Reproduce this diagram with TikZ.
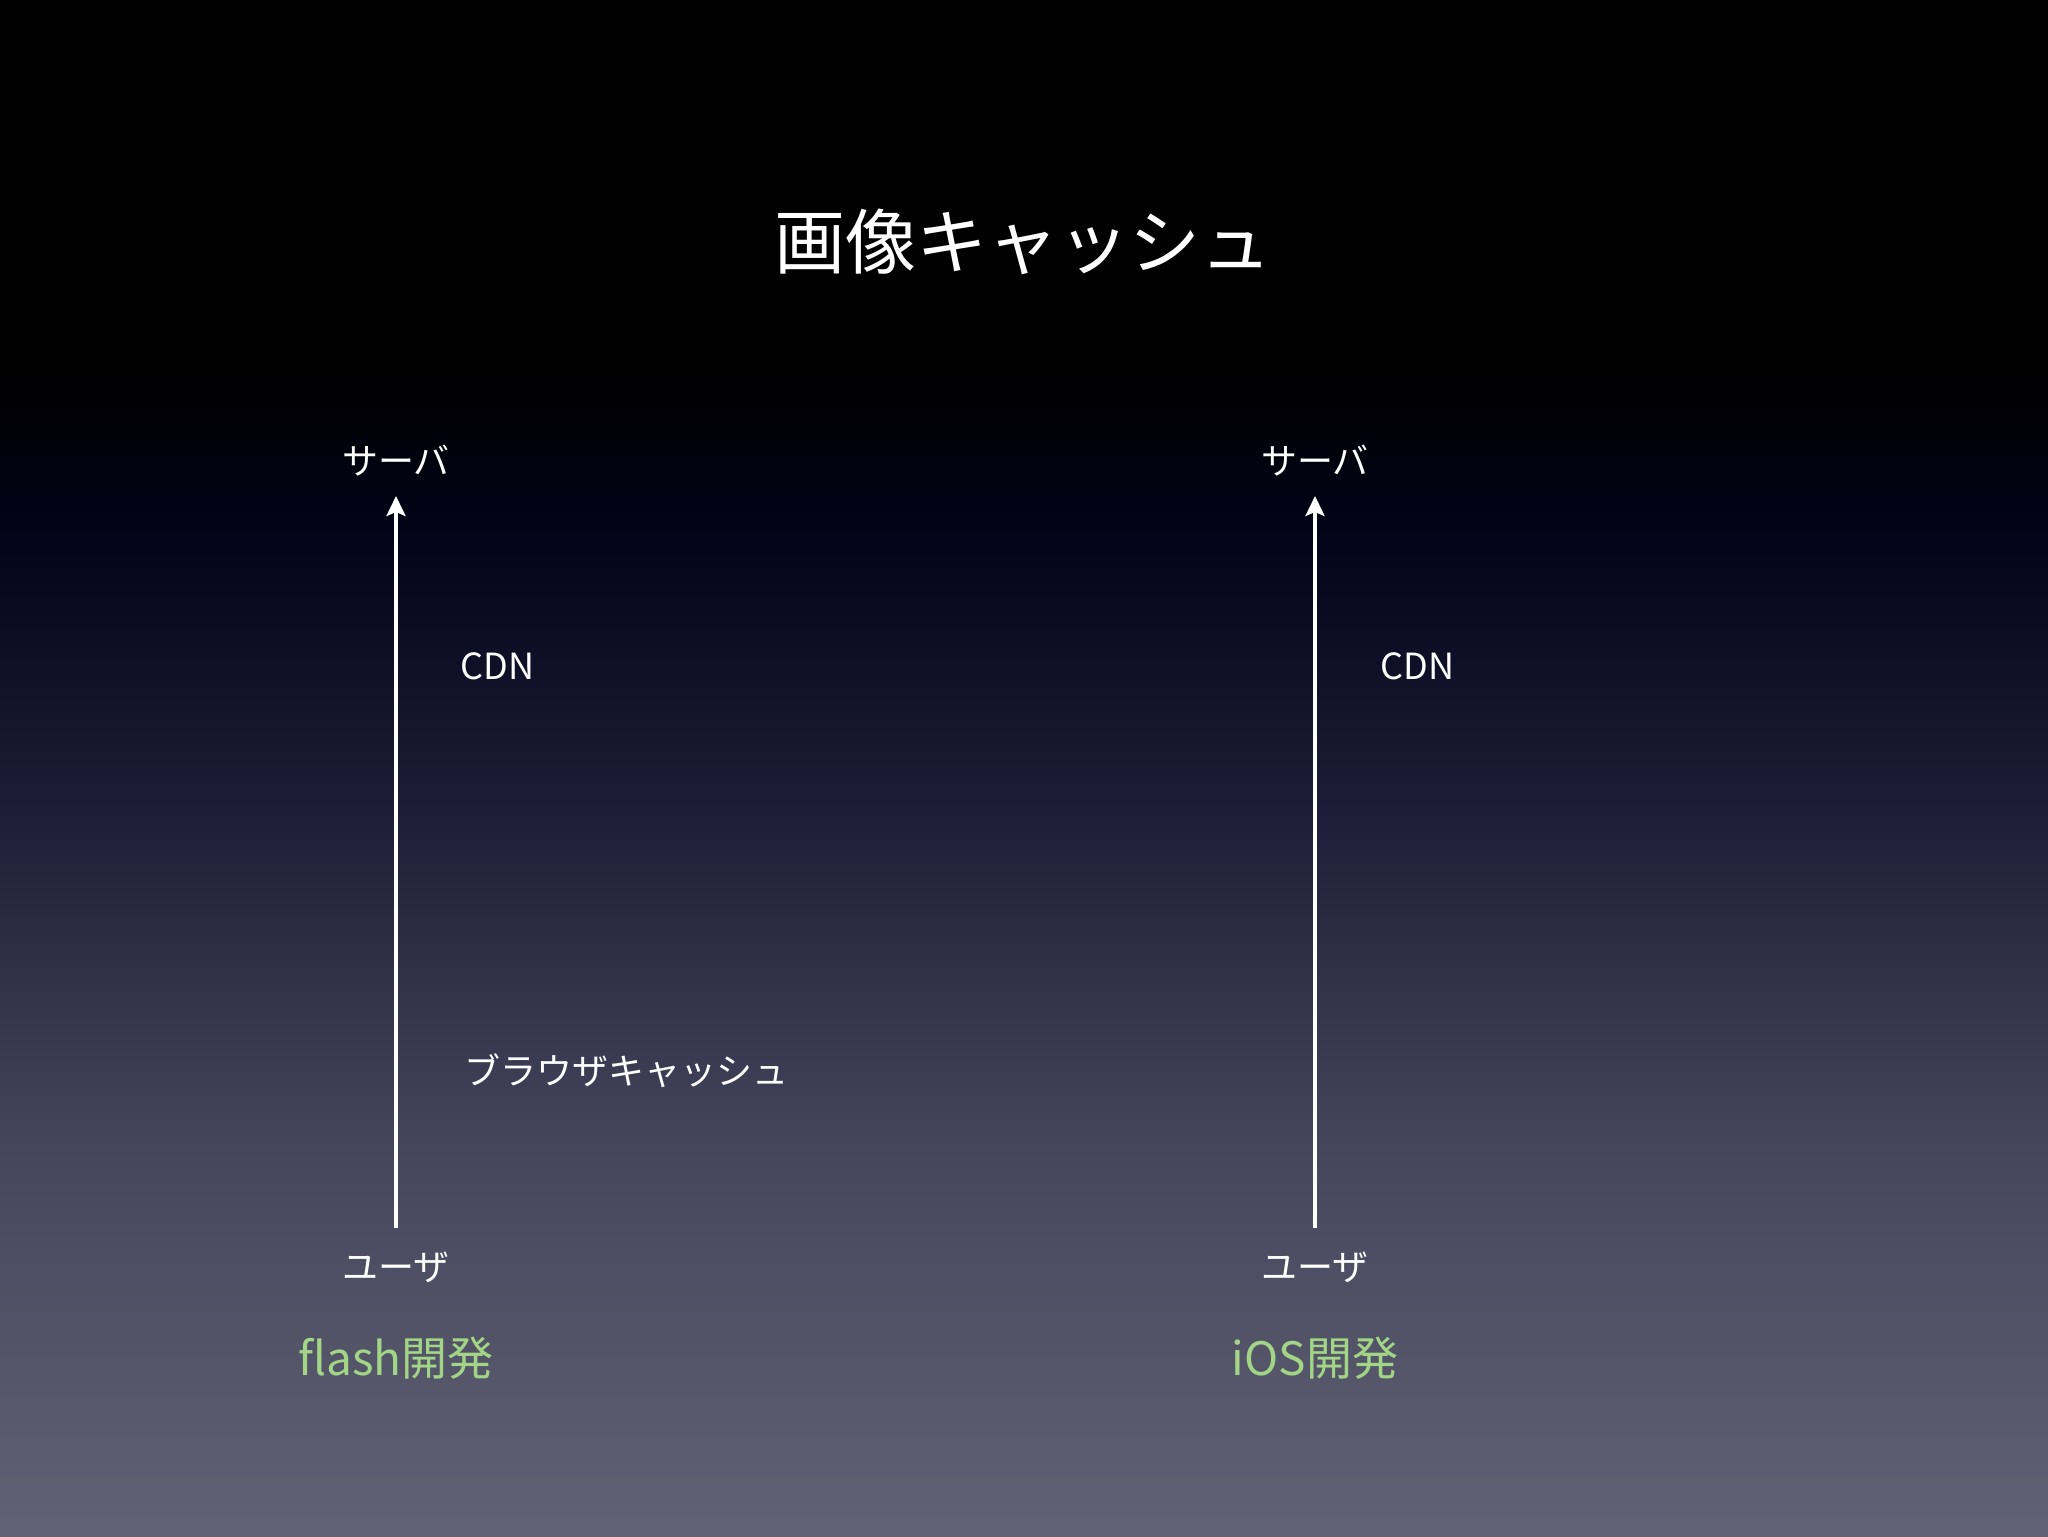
\documentclass[tikz,border=0pt]{standalone}
\usepackage{fontspec}
\setmainfont{Noto Sans CJK JP}
\usetikzlibrary{arrows.meta}
\definecolor{bgA}{HTML}{000000}
\definecolor{bgB}{HTML}{03031A}
\definecolor{bgC}{HTML}{1E1E38}
\definecolor{bgD}{HTML}{45455C}
\definecolor{bgE}{HTML}{626275}
\definecolor{greentxt}{HTML}{A2D585}
\tikzset{
  lbl/.style={text=white, font=\fontsize{18}{20}\selectfont, inner sep=0pt},
  sub/.style={text=greentxt, font=\fontsize{23}{26}\selectfont, inner sep=0pt},
  flow/.style={draw=white, line width=2pt, -{Stealth[length=10pt,width=9.5pt,inset=2pt]}}
}
\begin{document}
\begin{tikzpicture}[x=0.5pt,y=-0.5pt]
\useasboundingbox (0,0) rectangle (2048,1536);
\fill[bgA] (0,0) rectangle (2048,370);
\shade[top color=bgA, bottom color=bgB] (0,369) rectangle (2048,540);
\shade[top color=bgB, bottom color=bgC] (0,539) rectangle (2048,820);
\shade[top color=bgC, bottom color=bgD] (0,819) rectangle (2048,1150);
\shade[top color=bgD, bottom color=bgE] (0,1149) rectangle (2048,1536);
\node[text=white, font=\fontsize{35.5}{40}\selectfont, inner sep=0pt] (title) at (1023,242) {画像キャッシュ};
% left
\node[lbl] (s1) at (396,461) {サーバ};
\node[lbl] (u1) at (396,1267) {ユーザ};
\node[lbl, anchor=west] (c1) at (460,666) {CDN};
\node[lbl, anchor=west] (b1) at (464,1071) {ブラウザキャッシュ};
\node[sub] (f1) at (396,1358) {flash開発};
\draw[flow, shorten <=11.5pt, shorten >=9.5pt] (u1) -- (s1);
% right
\node[lbl] (s2) at (1315,461) {サーバ};
\node[lbl] (u2) at (1315,1267) {ユーザ};
\node[lbl, anchor=west] (c2) at (1380,666) {CDN};
\node[sub] (f2) at (1315,1358) {iOS開発};
\draw[flow, shorten <=11.5pt, shorten >=9.5pt] (u2) -- (s2);
\end{tikzpicture}
\end{document}
